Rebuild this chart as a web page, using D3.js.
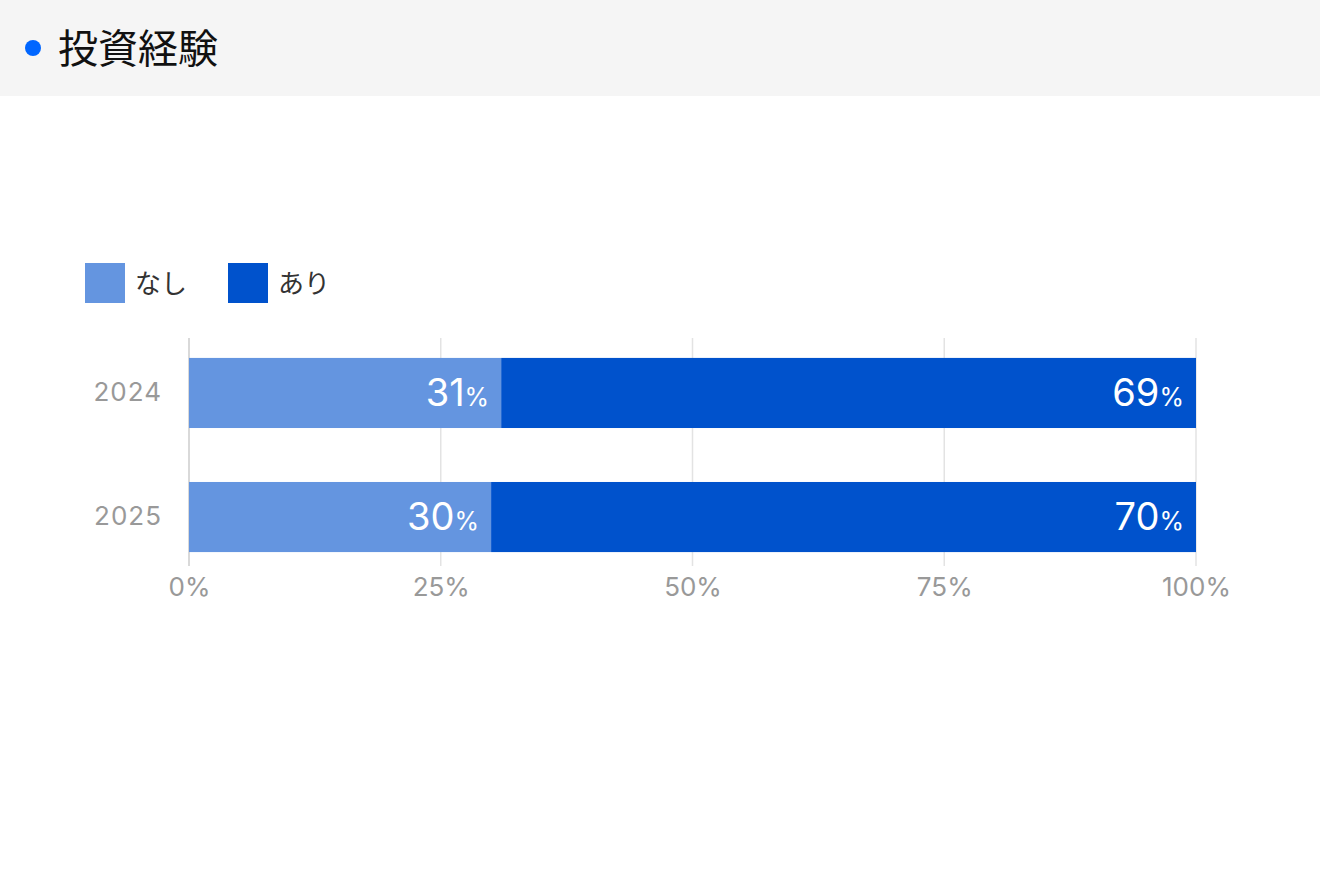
<!DOCTYPE html>
<html><head><meta charset="utf-8">
<script src="https://cdn.jsdelivr.net/npm/d3@7"></script>
<style>body{margin:0;background:#fff;font-family:Inter,"Noto Sans CJK JP",sans-serif}</style>
</head><body>
<script>
const years = ['2024', '2025'];
const nashi = [31, 30];
const ari = [69, 70];
const ticks = [0, 25, 50, 75, 100];
const seriesNames = ['なし', 'あり'];
const colors = ['#6495e0', '#0052cc'];

const W = 1320, H = 871;
const svg = d3.select('body').append('svg').attr('width', W).attr('height', H);
const jp = '"Noto Sans CJK JP",sans-serif';

// header
svg.append('rect').attr('width', W).attr('height', 96).attr('fill', '#f5f5f5');
svg.append('circle').attr('cx', 33).attr('cy', 48).attr('r', 8).attr('fill', '#0066ff');
svg.append('text').attr('x', 58).attr('y', 63).attr('font-size', 40)
    .attr('font-family', jp).attr('fill', '#111').text('投資経験');

// legend
const lx = [85, 228];
seriesNames.forEach((n, i) => {
    svg.append('rect').attr('x', lx[i]).attr('y', 263).attr('width', 40).attr('height', 40).attr('fill', colors[i]);
    svg.append('text').attr('x', lx[i] + 50).attr('y', 293).attr('font-size', 26)
        .attr('font-family', jp).attr('fill', '#333').text(n);
});

const x = d3.scaleLinear().domain([0, 100]).range([189, 1196]);
const y = d3.scaleBand().domain(years).range([331, 579]).paddingInner(0.435).paddingOuter(0.217);

// grid
svg.append('g').selectAll('line').data(ticks).join('line')
    .attr('x1', (d) => x(d)).attr('x2', (d) => x(d))
    .attr('y1', 338).attr('y2', 566)
    .attr('stroke', (d) => d === 0 ? '#ccc' : '#e3e3e3').attr('stroke-width', 1.5);

const axis = svg.append('g').attr('transform', 'translate(0,566)')
    .call(d3.axisBottom(x).tickValues(ticks).tickFormat((d) => d + '%').tickSize(0).tickPadding(12));
axis.select('.domain').remove();
axis.selectAll('text').attr('font-size', 26).attr('fill', '#999').attr('font-family', 'Inter,sans-serif');

const ax = svg.append('g').attr('transform', 'translate(162,0)')
    .call(d3.axisLeft(y).tickSize(0).tickPadding(0));
ax.select('.domain').remove();
ax.selectAll('text').attr('font-size', 26).attr('fill', '#999').attr('font-family', 'Inter,sans-serif').attr('letter-spacing', 1);

const stacked = years.map((yr, i) => [
    {yr, x0: 0, x1: nashi[i], v: nashi[i], c: colors[0]},
    {yr, x0: nashi[i], x1: nashi[i] + ari[i], v: ari[i], c: colors[1]},
]).flat();

svg.append('g').selectAll('rect').data(stacked).join('rect')
    .attr('x', (d) => x(d.x0)).attr('width', (d) => x(d.x1) - x(d.x0))
    .attr('y', (d) => y(d.yr)).attr('height', y.bandwidth()).attr('fill', (d) => d.c);

const lbl = svg.append('g').selectAll('text').data(stacked).join('text')
    .attr('x', (d) => x(d.x1) - 12).attr('y', (d) => y(d.yr) + y.bandwidth() / 2 + 13)
    .attr('text-anchor', 'end').attr('fill', '#fff').attr('font-family', 'Inter,sans-serif');
lbl.append('tspan').attr('font-size', 38).text((d) => d.v);
lbl.append('tspan').attr('font-size', 25).text('%');
</script>
</body></html>
